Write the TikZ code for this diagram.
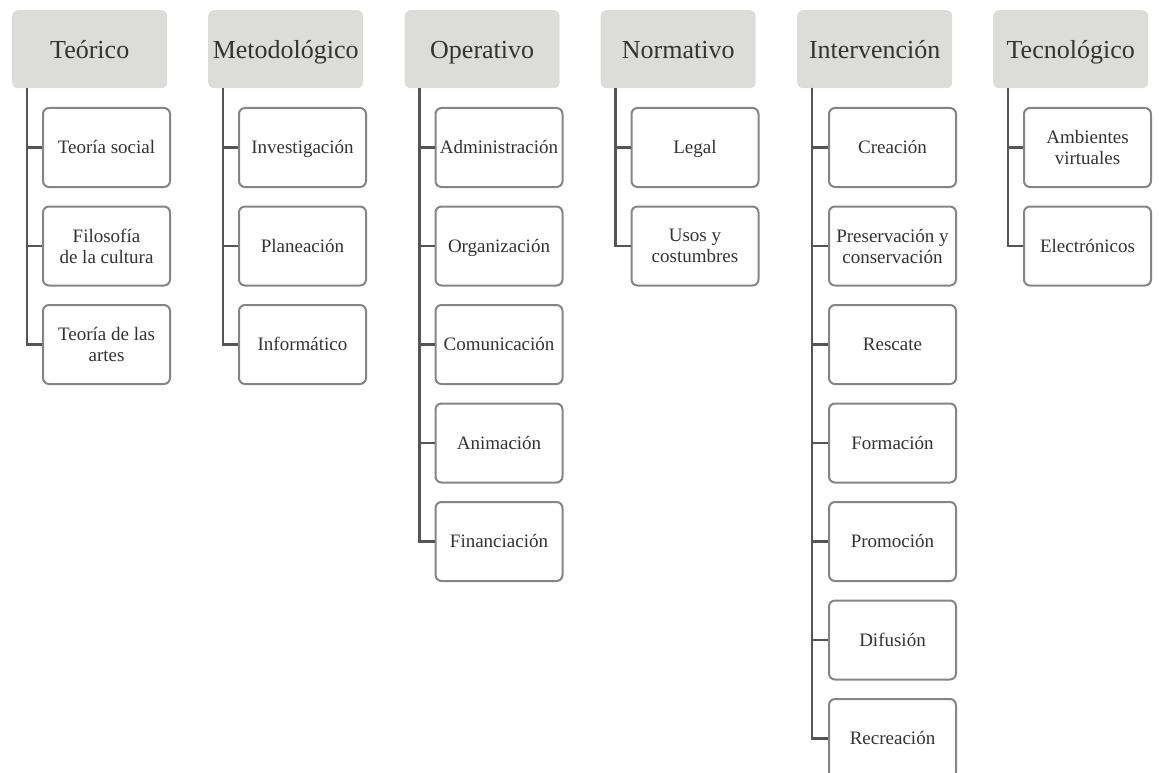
\documentclass[tikz,border=0pt]{standalone}
\usepackage{fontspec}
\setmainfont{Liberation Serif}
\definecolor{hdrfill}{HTML}{DCDDDA}
\definecolor{txt}{HTML}{333333}
\definecolor{boxline}{HTML}{858585}
\definecolor{conn}{HTML}{555555}
\tikzset{
 header/.style={fill=hdrfill, rounded corners=6pt, minimum width=155pt, minimum height=78pt, inner sep=0pt, anchor=north west, text=txt, text height=22pt, text depth=4pt, font=\fontsize{26}{29}\selectfont},
 item/.style={draw=boxline, line width=2pt, fill=white, rounded corners=6pt, minimum width=127pt, minimum height=79pt, inner sep=0pt, anchor=north west, align=center, text=txt, font=\fontsize{19}{21}\selectfont},
 one/.style={text height=15pt, text depth=3pt},
 link/.style={draw=conn, line width=2.5pt}
}
\begin{document}
\begin{tikzpicture}[x=1pt,y=-1pt]
\useasboundingbox (0,0) rectangle (1159,773);
% headers
\node[header] (h1) at (12,10) {Teórico};
\node[header] (h2) at (208,10) {Metodológico};
\node[header] (h3) at (404.5,10) {Operativo};
\node[header] (h4) at (600.5,10) {Normativo};
\node[header] (h5) at (797,10) {Intervención};
\node[header] (h6) at (993,10) {Tecnológico};
% column 1
\node[item,one] (c11) at (42,107) {Teoría social};
\node[item] (c12) at (42,205.5) {Filosofía\\de la cultura};
\node[item] (c13) at (42,304) {Teoría de las\\artes};
% column 2
\node[item,one] (c21) at (238,107) {Investigación};
\node[item,one] (c22) at (238,205.5) {Planeación};
\node[item,one] (c23) at (238,304) {Informático};
% column 3
\node[item,one] (c31) at (434.5,107) {Administración};
\node[item,one] (c32) at (434.5,205.5) {Organización};
\node[item,one] (c33) at (434.5,304) {Comunicación};
\node[item,one] (c34) at (434.5,402.5) {Animación};
\node[item,one] (c35) at (434.5,501) {Financiación};
% column 4
\node[item,one] (c41) at (630.5,107) {Legal};
\node[item] (c42) at (630.5,205.5) {Usos y\\costumbres};
% column 5
\node[item,one] (c51) at (828,107) {Creación};
\node[item] (c52) at (828,205.5) {Preservación y\\conservación};
\node[item,one] (c53) at (828,304) {Rescate};
\node[item,one] (c54) at (828,402.5) {Formación};
\node[item,one] (c55) at (828,501) {Promoción};
\node[item,one] (c56) at (828,599.5) {Difusión};
\node[item,one] (c57) at (828,698) {Recreación};
% column 6
\node[item] (c61) at (1023,107) {Ambientes\\virtuales};
\node[item,one] (c62) at (1023,205.5) {Electrónicos};
% connector tops
\coordinate (t1) at (27,88);
\coordinate (t2) at (223,88);
\coordinate (t3) at (419.5,88);
\coordinate (t4) at (615.5,88);
\coordinate (t5) at (812,88);
\coordinate (t6) at (1008,88);
\foreach \c in {c11,c12,c13} \draw[link] (t1) |- (\c.west);
\foreach \c in {c21,c22,c23} \draw[link] (t2) |- (\c.west);
\foreach \c in {c31,c32,c33,c34,c35} \draw[link] (t3) |- (\c.west);
\foreach \c in {c41,c42} \draw[link] (t4) |- (\c.west);
\foreach \c in {c51,c52,c53,c54,c55,c56,c57} \draw[link] (t5) |- (\c.west);
\foreach \c in {c61,c62} \draw[link] (t6) |- (\c.west);
\end{tikzpicture}
\end{document}
